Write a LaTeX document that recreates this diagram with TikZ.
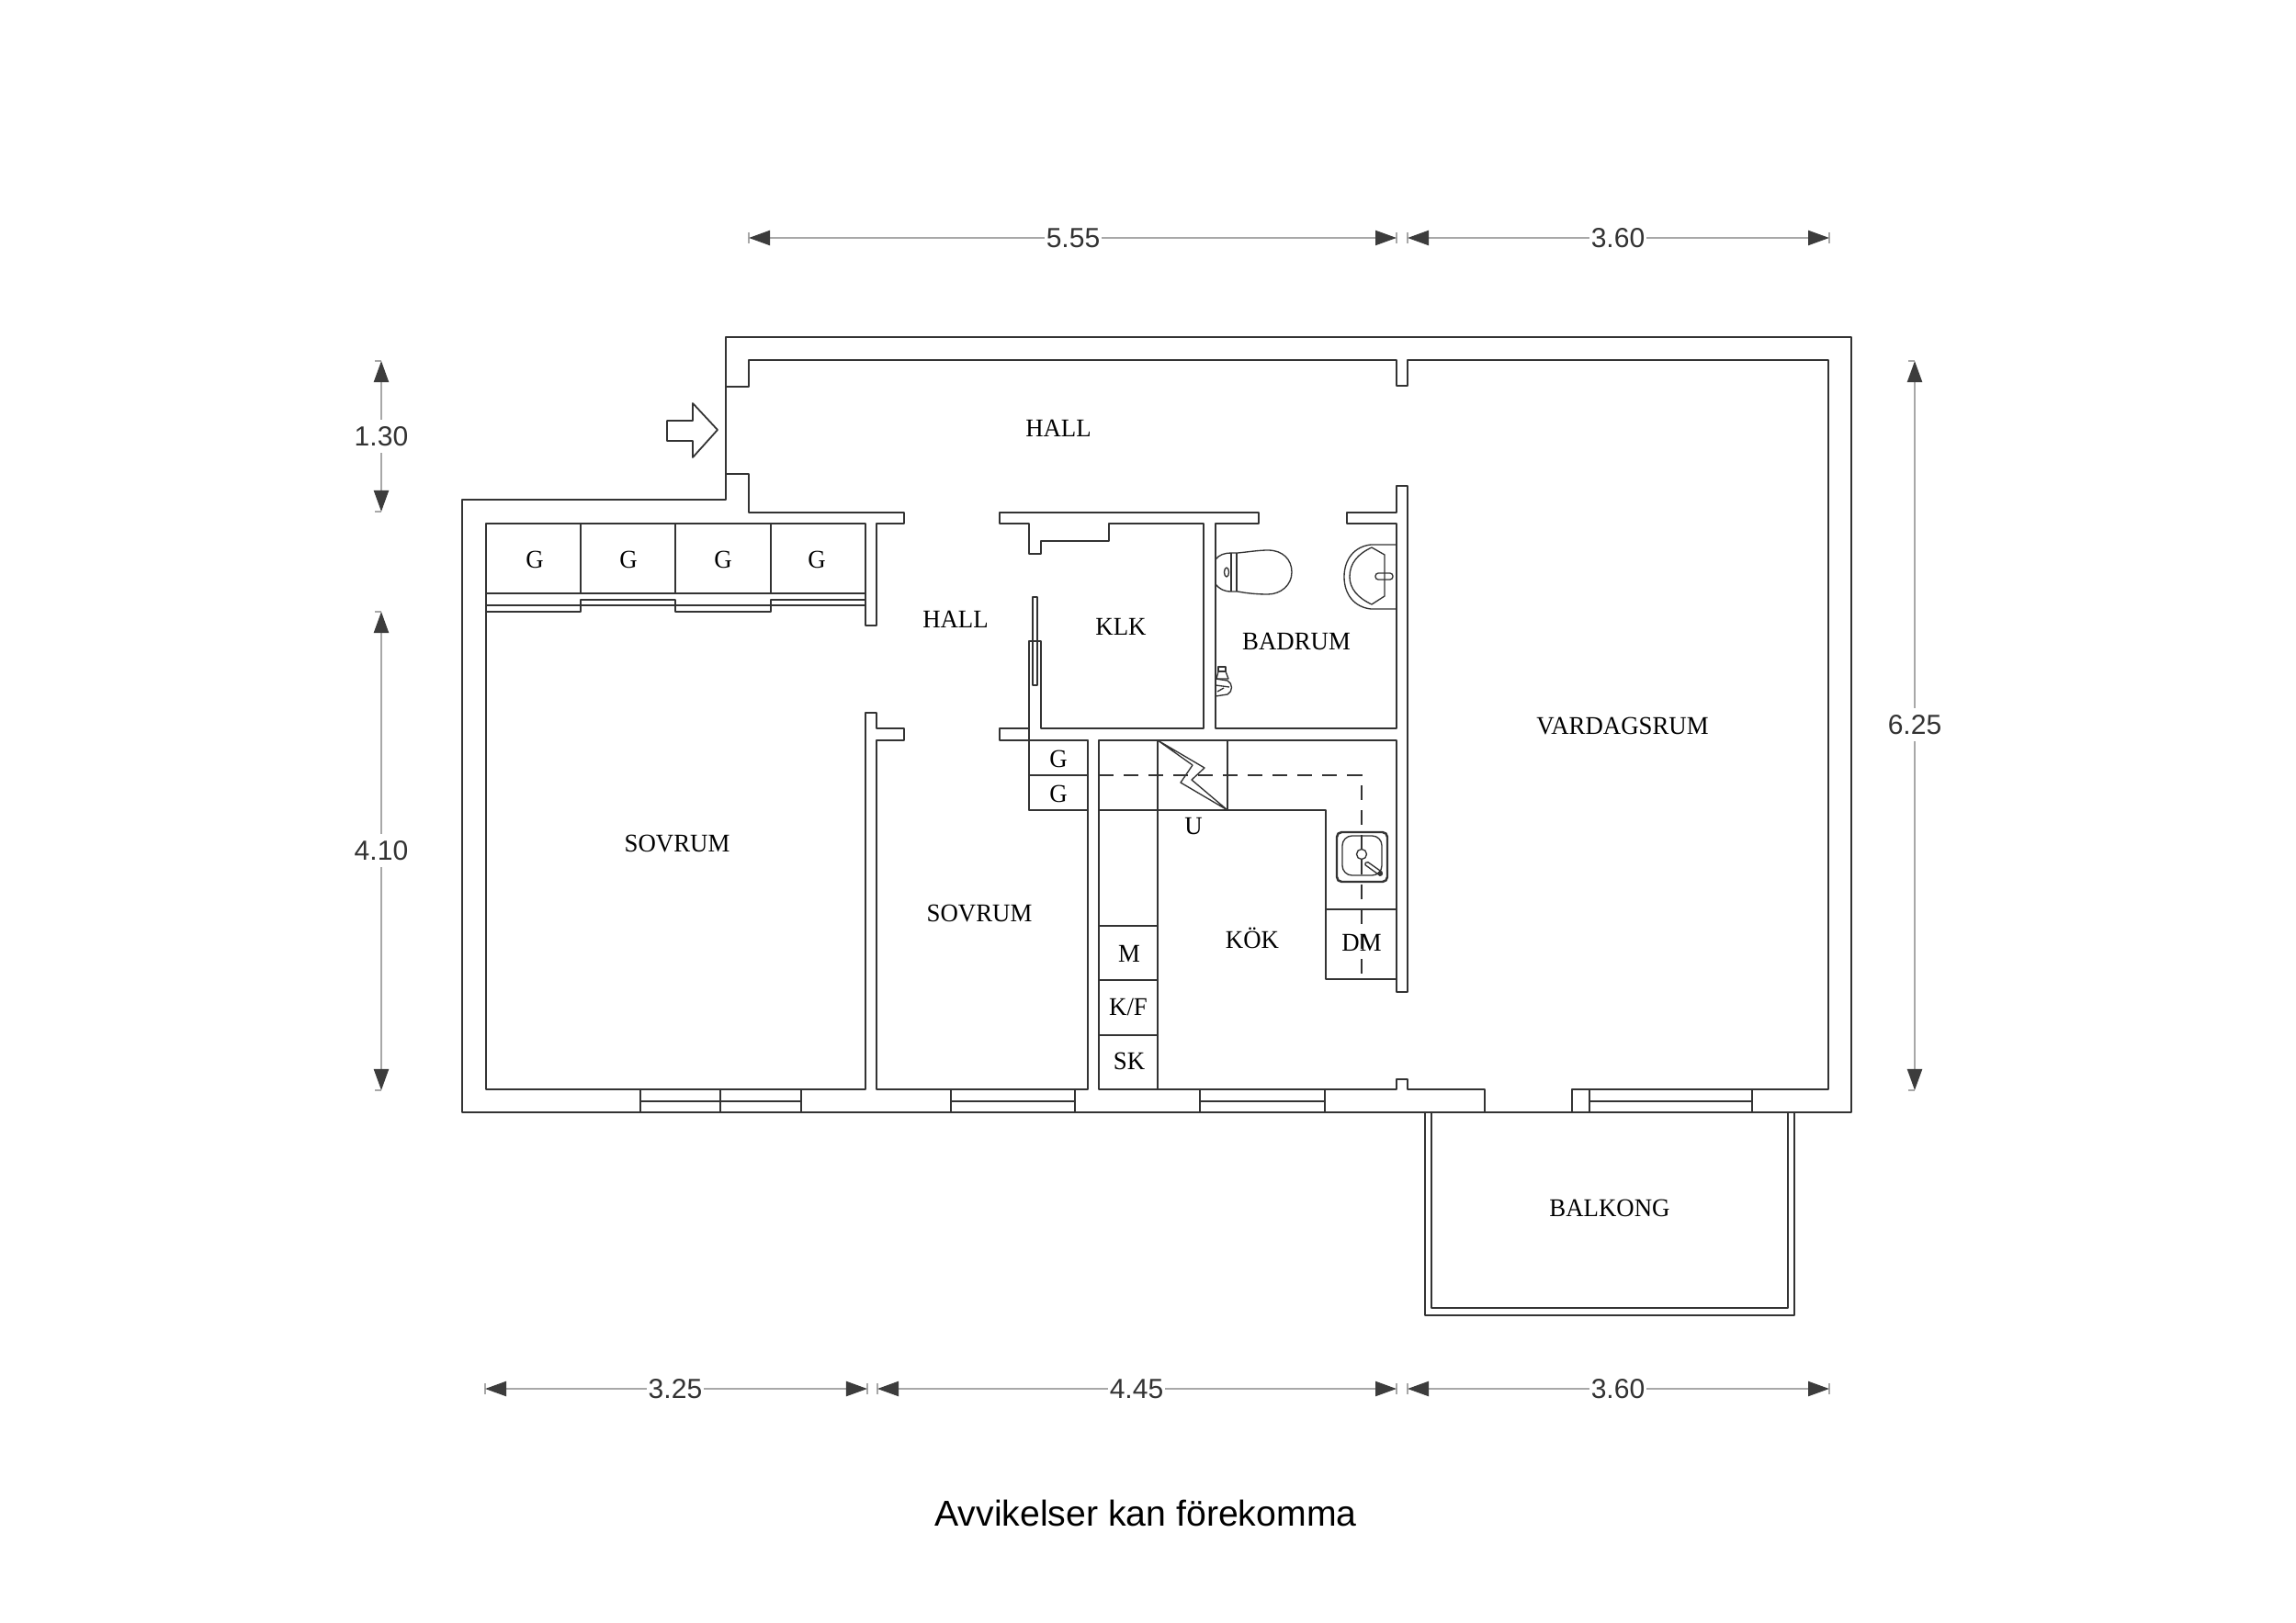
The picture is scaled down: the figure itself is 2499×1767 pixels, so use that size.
\documentclass[tikz,border=0pt]{standalone}
\usepackage{fontspec}
\setmainfont[FakeStretch=0.965]{Liberation Serif}
\newfontfamily\dimfont{Liberation Sans}
\usetikzlibrary{arrows.meta}
\definecolor{wallc}{HTML}{333333}
\definecolor{dimc}{HTML}{A8A8A8}
\definecolor{headc}{HTML}{3C3C3C}
\tikzset{
  wall/.style={draw=wallc,line width=0.5pt,line join=round,line cap=round},
  thin wall/.style={draw=wallc,line width=0.42pt,line join=round,line cap=round},
  fixture/.style={draw=wallc,line width=0.38pt,line join=round},
  dashline/.style={draw=wallc,line width=0.55pt,dash pattern=on 0.16cm off 0.11cm},
  room/.style={font=\fontsize{7.9pt}{9pt}\selectfont,text=black,inner sep=0pt},
  dimline/.style={draw=dimc,line width=0.62pt,{Triangle[length=0.23cm,width=0.16cm,color=headc]}-{Triangle[length=0.23cm,width=0.16cm,color=headc]}},
  dimtick/.style={draw=dimc,line width=0.3pt},
  dimtext/.style={font=\dimfont\fontsize{8.55pt}{10pt}\selectfont,text=wallc,fill=white,inner sep=0.5pt,outer sep=0pt},
  caption/.style={font=\dimfont\fontsize{11.15pt}{13pt}\selectfont,text=black,inner sep=0pt}
}
% horizontal dimension: name, x1, x2, y, xtext, text
\newcommand{\hdim}[6]{%
  \coordinate (#1a) at (#2,#4); \coordinate (#1b) at (#3,#4);
  \draw[dimtick] (#2,#4-6) -- (#2,#4+6); \draw[dimtick] (#3,#4-6) -- (#3,#4+6);
  \draw[dimline] (#1a) -- (#1b);
  \node[dimtext] (#1t) at (#5,#4) {#6};}
% vertical dimension: name, y1, y2, x, ytext, text
\newcommand{\vdim}[6]{%
  \coordinate (#1a) at (#4,#2); \coordinate (#1b) at (#4,#3);
  \draw[dimtick] (#4-7,#2) -- (#4,#2); \draw[dimtick] (#4-7,#3) -- (#4,#3);
  \draw[dimline] (#1a) -- (#1b);
  \node[dimtext,inner ysep=2.2pt] (#1t) at (#4,#5) {#6};}
% window in the bottom wall
\newcommand{\win}[2]{\draw[thin wall] (#1,1185) -- (#1,1210) (#2,1185) -- (#2,1210) (#1,1198) -- (#2,1198);}
\begin{document}
\begin{tikzpicture}[x=0.01cm,y=-0.01cm]
\useasboundingbox (0,0) rectangle (2499,1767);
\fill[white] (0,0) rectangle (2499,1767);
\begin{scope}[yshift=-0.01cm]
% outer wall
\draw[wall] (503,1210) -- (2015,1210) -- (2015,366) -- (790,366) -- (790,543) -- (503,543) -- cycle;
% inner contour of the top hall and living room
\draw[wall] (790,420) -- (815,420) -- (815,391) -- (1520,391) -- (1520,419) -- (1532,419) -- (1532,391) -- (1990,391) -- (1990,1185) -- (1711,1185) -- (1711,1210);
\draw[wall] (790,515) -- (815,515) -- (815,557) -- (984,557) -- (984,569) -- (954,569) -- (954,680) -- (942,680) -- (942,569) -- (529,569) -- (529,1185) -- (942,1185) -- (942,775) -- (954,775) -- (954,792) -- (984,792) -- (984,805) -- (954,805) -- (954,1185) -- (1184,1185) -- (1184,805) -- (1120,805) -- (1120,792) -- (1088,792) -- (1088,805) -- (1120,805);
% KLK
\draw[wall] (1120,697) -- (1133,697) -- (1133,792) -- (1310,792) -- (1310,569) -- (1207,569) -- (1207,588) -- (1133,588) -- (1133,602) -- (1120,602) -- (1120,569) -- (1088,569) -- (1088,557) -- (1370,557) -- (1370,569) -- (1323,569) -- (1323,792) -- (1520,792) -- (1520,569) -- (1466,569) -- (1466,557) -- (1520,557) -- (1520,528) -- (1532,528) -- (1532,1079) -- (1520,1079) -- (1520,805) -- (1196,805) -- (1196,1185) -- (1520,1185) -- (1520,1174) -- (1532,1174) -- (1532,1185) -- (1616,1185) -- (1616,1210);
\draw[wall] (1120,697) -- (1120,792);
\draw[thin wall] (1184,805) -- (1133,805) (1120,805) -- (1133,805);
\draw[thin wall] (1124,649) rectangle (1129,745);
% wardrobes
\foreach \gx in {632,735,839} {\draw[thin wall] (\gx,569) -- (\gx,645);}
\draw[thin wall] (529,645) -- (942,645) (529,658) -- (942,658);
\draw[thin wall] (529,665) -- (632,665) -- (632,652) -- (735,652) -- (735,665) -- (839,665) -- (839,652) -- (942,652);
% kitchen units
\draw[thin wall] (1120,843) -- (1184,843) (1120,881) -- (1184,881);
\draw[thin wall] (1120,805) -- (1120,881);
\draw[thin wall] (1260,805) -- (1260,1185) (1336,805) -- (1336,881);
\draw[thin wall] (1196,881) -- (1443,881) -- (1443,1065) -- (1520,1065) (1443,989) -- (1520,989);
\draw[thin wall] (1196,1007) -- (1260,1007) (1196,1066) -- (1260,1066) (1196,1126) -- (1260,1126);
\draw[dashline] (1196,843) -- (1482,843) -- (1482,1065);
% stove symbol
\draw[fixture] (1260,805) -- (1311,835) -- (1297,848) -- (1336,881) -- (1285,851) -- (1298,832) -- cycle;
% kitchen sink
\draw[draw=wallc,line width=0.7pt,rounded corners=1.5pt] (1455,905) rectangle (1510,959);
\draw[fixture,rounded corners=3pt] (1461,909) rectangle (1504,952);
\draw[fixture] (1482,929) circle (5.5);
\draw[fixture,rounded corners=0.4pt] (1485,940) -- (1488,937) -- (1505,949) -- (1503,953) -- cycle;
\fill[wallc] (1502,950) circle (2.5);
% toilet
\draw[fixture] (1323,608) .. controls (1327,603) and (1333,601) .. (1340,601) -- (1347,601) .. controls (1358,600) and (1370,598) .. (1380,598) .. controls (1396,598) and (1406,608) .. (1406,622) .. controls (1406,636) and (1394,646) .. (1380,646) .. controls (1368,646) and (1358,645) .. (1347,643) -- (1340,643) .. controls (1332,643) and (1327,640) .. (1323,635);
\draw[fixture] (1340,601) -- (1340,643) (1346,601) -- (1346,643);
\draw[fixture] (1335,622) ellipse (2.5 and 5);
% wash basin
\draw[fixture] (1520,592) -- (1492,592) .. controls (1474,594) and (1463,608) .. (1463,627) .. controls (1463,646) and (1474,660) .. (1492,662) -- (1520,662);
\draw[fixture] (1493,595) -- (1507,603) -- (1507,648) -- (1493,657) .. controls (1478,650) and (1469,640) .. (1469,627) .. controls (1469,612) and (1478,602) .. (1493,595) -- cycle;
\draw[fixture,rounded corners=0.9pt] (1497,623) rectangle (1516,630);
% shower mixer
\draw[fixture] (1326,730) -- (1326,725) -- (1334,725) -- (1334,730) -- cycle;
\draw[fixture] (1326,730) -- (1324,738) -- (1337,738) -- (1334,730);
\draw[fixture] (1323,738) -- (1336,740) .. controls (1342,743) and (1342,752) .. (1336,755) -- (1323,757);
\draw[fixture] (1323,745) -- (1338,747) (1325,752) -- (1332,748);
% windows
\win{697}{872}
\draw[thin wall] (784,1185) -- (784,1210);
\win{1035}{1170}
\win{1306}{1442}
\win{1730}{1907}
% balcony
\draw[wall] (1551,1210) -- (1551,1431) -- (1953,1431) -- (1953,1210);
\draw[wall] (1558,1210) -- (1558,1423) -- (1946,1423) -- (1946,1210);
% entry arrow
\draw[wall] (726,457) -- (754,457) -- (754,438) -- (781,467) -- (754,497) -- (754,479) -- (726,479) -- cycle;
% room labels
\node[room] (hallA) at (1152,465) {HALL};
\node[room] (hallB) at (1040,673) {HALL};
\node[room] (klk) at (1220,681) {KLK};
\node[room] (bad) at (1411,697) {BADRUM};
\node[room] (vard) at (1766,790) {VARDAGSRUM};
\node[room] (sov1) at (737,918) {SOVRUM};
\node[room] (sov2) at (1066,994) {SOVRUM};
\node[room] (kok) at (1363,1020) {KÖK};
\node[room] (balk) at (1752,1314) {BALKONG};
\node[room] (u) at (1299,899) {U};
\node[room] (dm) at (1482,1025) {DM};
\node[room] (m) at (1229,1037) {M};
\node[room] (kf) at (1228,1095) {K/F};
\node[room] (sk) at (1229,1154) {SK};
\node[room] (g1) at (582,608) {G};
\node[room] (g2) at (684,608) {G};
\node[room] (g3) at (787,608) {G};
\node[room] (g4) at (889,608) {G};
\node[room] (g5) at (1152,825) {G};
\node[room] (g6) at (1152,863) {G};
% dimensions
\hdim{dA}{815}{1520}{258}{1168}{5.55}
\hdim{dB}{1532}{1991}{258}{1761}{3.60}
\hdim{dC}{528}{944}{1511}{735}{3.25}
\hdim{dD}{955}{1520}{1511}{1237}{4.45}
\hdim{dE}{1532}{1991}{1511}{1761}{3.60}
\vdim{dF}{392}{556}{415}{474}{1.30}
\vdim{dG}{665}{1186}{415}{925}{4.10}
\vdim{dH}{392}{1186}{2084}{788}{6.25}
\node[caption] (cap) at (1247,1646) {Avvikelser kan förekomma};
\end{scope}
\end{tikzpicture}
\end{document}
